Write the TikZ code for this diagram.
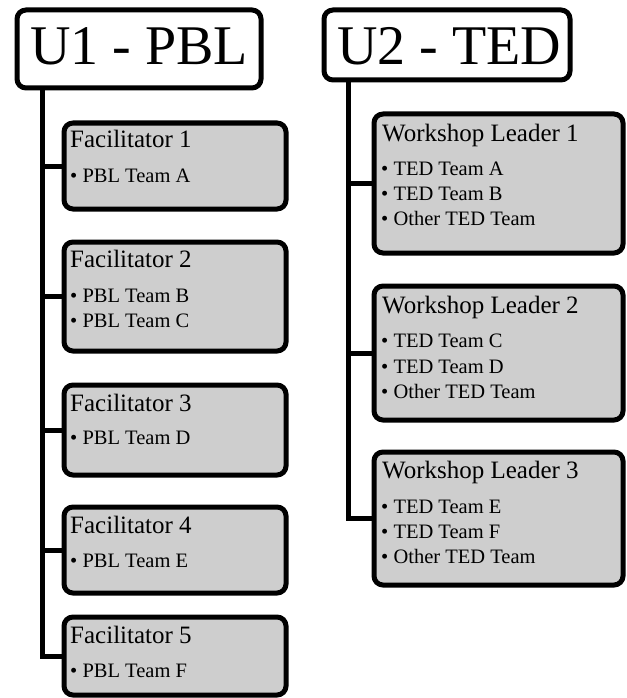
\documentclass[tikz,border=0pt]{standalone}
\usepackage{fontspec}
\setmainfont{Liberation Serif}
\definecolor{boxgray}{RGB}{206,206,206}
\begin{document}
\begin{tikzpicture}[x=1pt,y=-1pt,
  box/.style={draw=black, line width=5pt, rounded corners=9pt, inner sep=0pt, outer sep=0pt},
  titlebox/.style={box, fill=white},
  leaderbox/.style={box, fill=boxgray},
  titletext/.style={font=\fontsize{56}{60}\selectfont, inner sep=0pt, anchor=base west},
  leadertext/.style={font=\fontsize{25}{28}\selectfont, inner sep=0pt, anchor=base west},
  itemtext/.style={font=\fontsize{20.5}{25}\selectfont, inner sep=0pt, anchor=base west},
  link/.style={line width=5pt}]
\useasboundingbox (0,0) rectangle (626,698);

% title boxes
\node[titlebox, minimum width=244pt, minimum height=78pt] (u1) at (139,49) {};
\node[titletext] (u1t) at (30,65) {U1 - PBL};
\node[titlebox, minimum width=246pt, minimum height=70pt] (u2) at (447,45) {};
\node[titletext] (u2t) at (337,65) {U2 - TED};

% facilitator boxes
\node[leaderbox, minimum width=222pt, minimum height=86pt] (f1) at (175,166) {};
\node[leaderbox, minimum width=222pt, minimum height=109pt] (f2) at (175,296.5) {};
\node[leaderbox, minimum width=222pt, minimum height=90pt] (f3) at (175,430) {};
\node[leaderbox, minimum width=222pt, minimum height=86pt] (f4) at (175,550) {};
\node[leaderbox, minimum width=222pt, minimum height=78pt] (f5) at (175,656) {};

\node[leadertext] (f1l) at (70,147) {Facilitator 1};
\node[itemtext] (f1a) at (70,182) {• PBL Team A};
\node[leadertext] (f2l) at (70,267) {Facilitator 2};
\node[itemtext] (f2a) at (70,302) {• PBL Team B};
\node[itemtext] (f2b) at (70,327) {• PBL Team C};
\node[leadertext] (f3l) at (70,411) {Facilitator 3};
\node[itemtext] (f3a) at (70,444) {• PBL Team D};
\node[leadertext] (f4l) at (70,533) {Facilitator 4};
\node[itemtext] (f4a) at (70,567) {• PBL Team E};
\node[leadertext] (f5l) at (70,643) {Facilitator 5};
\node[itemtext] (f5a) at (70,677) {• PBL Team F};

% workshop leader boxes
\node[leaderbox, minimum width=249pt, minimum height=139pt] (w1) at (498.5,183.5) {};
\node[leaderbox, minimum width=249pt, minimum height=134pt] (w2) at (498.5,353) {};
\node[leaderbox, minimum width=249pt, minimum height=133pt] (w3) at (498.5,518.5) {};

\node[leadertext] (w1l) at (382,142) {Workshop Leader 1};
\node[itemtext] (w1a) at (381,175) {• TED Team A};
\node[itemtext] (w1b) at (381,200) {• TED Team B};
\node[itemtext] (w1c) at (381,225) {• Other TED Team};
\node[leadertext] (w2l) at (382,313) {Workshop Leader 2};
\node[itemtext] (w2a) at (381,347) {• TED Team C};
\node[itemtext] (w2b) at (381,373) {• TED Team D};
\node[itemtext] (w2c) at (381,398) {• Other TED Team};
\node[leadertext] (w3l) at (382,478) {Workshop Leader 3};
\node[itemtext] (w3a) at (381,513) {• TED Team E};
\node[itemtext] (w3b) at (381,538) {• TED Team F};
\node[itemtext] (w3c) at (381,563) {• Other TED Team};

% connectors
\coordinate (trunk1) at (42,0);
\coordinate (trunk2) at (348,0);
\draw[link] (u1.south -| trunk1) |- (f5.west);
\foreach \n in {f1,f2,f3,f4} \draw[link] (\n.west -| trunk1) -- (\n.west);
\draw[link] (u2.south -| trunk2) |- (w3.west);
\foreach \n in {w1,w2} \draw[link] (\n.west -| trunk2) -- (\n.west);
\end{tikzpicture}
\end{document}
